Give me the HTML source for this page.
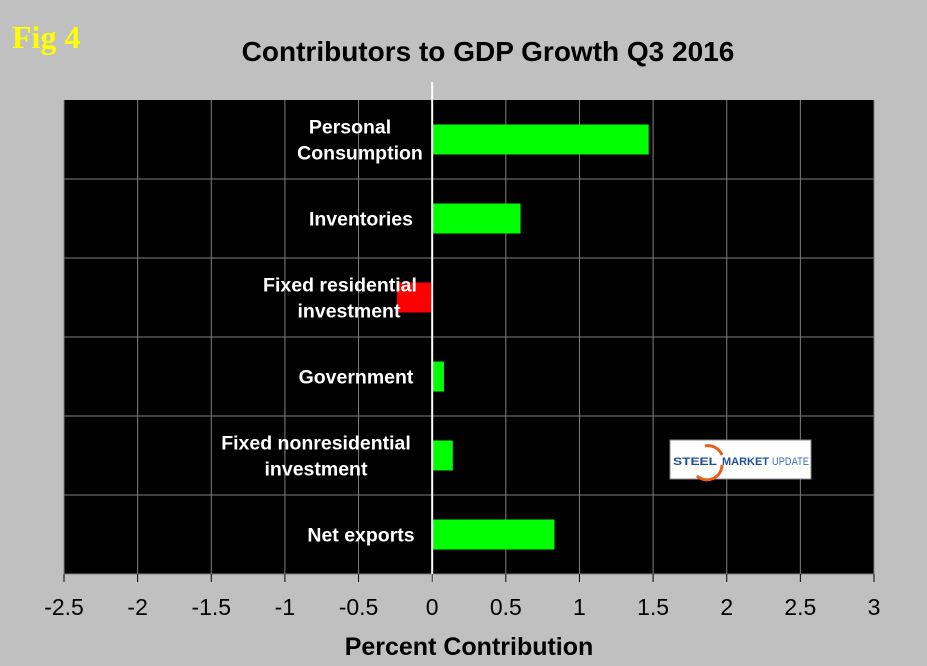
<!DOCTYPE html>
<html><head><meta charset="utf-8"><style>
html,body{margin:0;padding:0;background:#c0c0c0;}
svg{display:block;font-family:"Liberation Sans",Arial,sans-serif;}
</style></head><body>
<svg id="chart" width="927" height="666" viewBox="0 0 927 666">
<rect x="0" y="0" width="927" height="666" fill="#c0c0c0"/>
<text x="12" y="48" font-family="Liberation Serif,serif" font-weight="bold" font-size="32" fill="#ffff00">Fig 4</text>
<text x="488" y="61" text-anchor="middle" font-weight="bold" font-size="28" fill="#000">Contributors to GDP Growth Q3 2016</text>
<rect x="64" y="100" width="810" height="474" fill="#000"/>
<g id="grid"></g>
<g id="bars"></g>
<g id="labels"></g>
<g id="ticks"></g>
<text x="469" y="655" text-anchor="middle" font-weight="bold" font-size="25" fill="#000">Percent Contribution</text>
<g>
<rect x="670" y="440" width="141" height="39" fill="#fff" stroke="#888" stroke-width="1"/>
<path d="M705 446 A15 15 0 0 1 722 455 M722 465 A15 15 0 0 1 697 476" fill="none" stroke="#e8601c" stroke-width="3"/>
<text x="673" y="465" font-size="11" font-weight="bold" fill="#1f4e9c" textLength="44" lengthAdjust="spacingAndGlyphs">STEEL</text>
<text x="722" y="465" font-size="11" font-weight="bold" fill="#1f4e9c" textLength="47" lengthAdjust="spacingAndGlyphs">MARKET</text>
<text x="772" y="465" font-size="11" fill="#3a6dbf" textLength="37" lengthAdjust="spacingAndGlyphs">UPDATE</text>
</g>
</svg>
<script>
const categories = ["Personal Consumption","Inventories","Fixed residential investment","Government","Fixed nonresidential investment","Net exports"];
const labelLines = [["Personal","Consumption"],["Inventories"],["Fixed residential","investment"],["Government"],["Fixed nonresidential","investment"],["Net exports"]];
const values = [1.47, 0.60, -0.24, 0.08, 0.14, 0.83];
const tickValues = [-2.5,-2,-1.5,-1,-0.5,0,0.5,1,1.5,2,2.5,3];
const tickLabels = ["-2.5","-2","-1.5","-1","-0.5","0","0.5","1","1.5","2","2.5","3"];
const labelCenters = [[350,360],[361],[340,349],[356],[316,316],[361]];
const NS="http://www.w3.org/2000/svg";
const L=64,R=874,T=100,B=574,xmin=-2.5,xmax=3;
const x=v=>L+(v-xmin)/(xmax-xmin)*(R-L);
const band=(B-T)/categories.length;
const y=i=>T+i*band;
function mk(tag,attrs,parent){const e=document.createElementNS(NS,tag);for(const k in attrs)e.setAttribute(k,attrs[k]);parent.appendChild(e);return e;}
const grid=document.getElementById('grid'),bars=document.getElementById('bars'),labels=document.getElementById('labels'),ticks=document.getElementById('ticks');
tickValues.forEach((v,i)=>{
  if(v!==0){const g=mk('line',{x1:x(v),x2:x(v),y1:T,y2:B,stroke:'#808080','stroke-width':1},grid);
  
  }
  const t=mk('line',{x1:x(v),x2:x(v),y1:B,y2:B+8,stroke:'#000','stroke-width':1},ticks);
  
  
  const tl=mk('text',{x:x(v),y:B+41,'text-anchor':'middle','font-size':23,fill:'#000'},ticks);
  tl.textContent=tickLabels[i];
  
  
});
for(let i=1;i<categories.length;i++){
  const g=mk('line',{x1:L,x2:R,y1:y(i),y2:y(i),stroke:'#808080','stroke-width':1},grid);
  
  
}
mk('line',{x1:L,x2:R,y1:B,y2:B,stroke:'#808080','stroke-width':1},grid);
values.forEach((v,i)=>{
  const bh=30,by=y(i)+band/2-bh/2;
  const x0=Math.min(x(0),x(v)),w=Math.abs(x(v)-x(0));
  const r=mk('rect',{x:x0,y:by,width:w,height:bh,fill:v>=0?'#00ff00':'#ff0000'},bars);
  
  
});
const z=mk('line',{x1:x(0),x2:x(0),y1:82,y2:B+8,stroke:'#fff','stroke-width':2},bars);


values.forEach((v,i)=>{
  const lines=labelLines[i],cy=y(i)+band/2;
  lines.forEach((s,j)=>{
    const t=mk('text',{x:labelCenters[i][j],y:cy+7+(j-(lines.length-1)/2)*26,'text-anchor':'middle','font-size':19.5,'font-weight':'bold',fill:'#fff'},labels);
    t.textContent=s;
    
    
  });
});
</script>
</body></html>
